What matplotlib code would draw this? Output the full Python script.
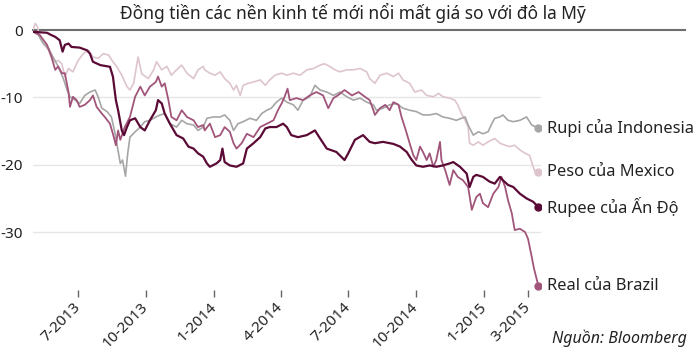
import pandas as pd
import matplotlib
matplotlib.use("Agg")
import matplotlib.pyplot as plt

plt.rcParams['font.family'] = ['Noto Sans', 'DejaVu Sans']

# days counted from 2013-05-01, values in % vs USD
start = pd.Timestamp("2013-05-01")

india_days = [0, 19, 24, 30, 36, 40, 43, 48, 52, 63, 73, 77, 81, 91, 104, 108, 112, 115, 120, 123,
              127, 131, 138, 145, 151, 158, 166, 169, 174, 178, 185, 194, 203, 210, 217, 223, 230,
              235, 239, 248, 253, 256, 259, 266, 275, 284, 289, 298, 307, 314, 320, 329, 338, 343,
              349, 358, 370, 381, 388, 397, 410, 421, 426, 435, 446, 455, 462, 473, 487, 496, 505,
              509, 512, 518, 527, 536, 545, 554, 563, 568, 577, 586, 590, 595, 599, 608, 617, 624,
              631, 635, 642, 649, 658, 667, 676, 683]
india_vals = [-0.25, -0.4, -0.7, -1.0, -1.5, -3.2, -2.2, -2.0, -2.5, -2.6, -3.0, -3.5, -4.7, -5.2,
              -5.45, -6.9, -10.4, -11.9, -14.9, -15.6, -14.4, -13.4, -13.1, -14.4, -14.9, -13.4,
              -11.9, -10.4, -10.9, -12.4, -13.9, -15.6, -16.1, -17.3, -17.6, -18.3, -18.8,
              -19.8, -20.3, -19.8, -19.3, -17.6, -19.6, -20.1, -20.3, -19.8, -17.6, -16.8, -15.9,
              -14.6, -14.4, -14.4, -13.9, -14.4, -15.6, -15.9, -15.6, -14.9, -16.1, -17.6, -18.1,
              -19.3, -18.3, -16.3, -15.6, -16.6, -16.8, -16.6, -16.9, -17.3, -18.1, -18.8, -19.3,
              -20.1, -20.3, -20.1, -20.3, -20.1, -19.8, -19.6, -20.3, -21.3, -23.3, -21.8, -21.5,
              -21.8, -22.5, -22.8, -21.8, -22.3, -23.0, -23.3, -24.3, -25.0, -25.5, -26.3]

brazil_days = [0, 9, 19, 25, 30, 34, 39, 43, 48, 50, 54, 59, 63, 70, 77, 81, 86, 93, 97, 104, 108,
               112, 115, 118, 124, 131, 138, 145, 151, 158, 166, 169, 174, 178, 183, 187, 194, 201,
               208, 217, 223, 230, 232, 239, 246, 253, 259, 266, 271, 275, 282, 289, 298, 307, 316,
               325, 331, 336, 340, 344, 347, 356, 365, 374, 383, 392, 399, 406, 412, 421, 431, 440,
               446, 455, 460, 462, 469, 476, 482, 487, 494, 498, 503, 509, 514, 518, 523, 527, 532,
               536, 541, 545, 550, 552, 557, 563, 568, 574, 581, 588, 593, 599, 604, 608, 615, 622,
               629, 633, 638, 642, 647, 651, 658, 665, 669, 674, 677, 680, 683]
brazil_vals = [-0.25, -0.7, -2.2, -4.0, -5.9, -5.4, -6.4, -6.4, -9.2, -11.4, -9.9, -10.4, -11.4,
               -11.1, -10.4, -9.7, -11.4, -12.4, -12.9, -13.9, -15.4, -17.1, -14.9, -16.3, -14.4,
               -12.9, -9.9, -8.4, -9.7, -8.4, -7.7, -6.9, -8.4, -7.9, -10.4, -12.9, -13.4, -11.9,
               -12.9, -13.4, -14.4, -14.1, -14.9, -13.9, -15.9, -15.6, -14.4, -15.1, -16.8, -17.6,
               -16.8, -15.4, -15.9, -14.4, -13.9, -13.4, -11.9, -10.9, -9.9, -8.7, -10.4, -10.1,
               -10.4, -9.7, -9.2, -9.7, -11.6, -10.1, -9.7, -8.9, -9.7, -9.2, -9.7, -10.4, -11.9,
               -12.6, -11.6, -11.1, -11.9, -10.7, -11.1, -12.9, -14.6, -16.8, -18.6, -19.3, -17.3,
               -18.1, -19.3, -18.3, -20.3, -19.3, -16.6, -19.3, -20.8, -23.0, -20.8, -21.8, -22.3,
               -23.3, -26.7, -24.8, -24.3, -25.7, -26.3, -24.3, -23.3, -21.8, -23.3, -25.3, -27.2,
               -29.7, -29.5, -30.0, -31.0, -33.7, -35.4, -36.7, -38.0]

indo_days = [0, 7, 14, 21, 27, 34, 41, 46, 50, 57, 63, 70, 77, 84, 88, 93, 100, 106, 111, 114, 118,
             121, 125, 128, 131, 138, 145, 151, 158, 166, 172, 178, 185, 194, 201, 208, 217, 223,
             230, 235, 244, 253, 259, 266, 271, 277, 284, 293, 302, 309, 316, 322, 329, 336, 343,
             352, 358, 365, 374, 381, 388, 397, 406, 415, 424, 433, 442, 451, 460, 464, 473, 482,
             491, 500, 509, 518, 527, 536, 545, 554, 563, 572, 579, 584, 588, 595, 602, 608, 615,
             620, 624, 631, 635, 642, 649, 658, 667, 674, 680, 683]
indo_vals = [-0.25, -0.7, -2.0, -2.7, -4.0, -5.4, -7.2, -8.9, -9.9, -10.4, -10.9, -9.7, -9.2, -8.9,
             -9.9, -11.6, -12.1, -12.9, -15.4, -17.3, -19.8, -19.3, -21.7, -18.3, -15.9, -15.1,
             -14.4, -13.6, -13.4, -12.9, -12.6, -12.4, -13.9, -14.4, -13.4, -13.9, -14.1, -14.9,
             -14.4, -13.1, -12.9, -12.9, -12.6, -13.4, -14.9, -13.9, -13.6, -13.1, -13.4, -12.4,
             -11.9, -11.6, -10.7, -10.1, -10.7, -11.1, -11.9, -10.4, -9.9, -8.2, -8.9, -9.2, -9.7,
             -9.2, -9.9, -10.4, -10.1, -10.7, -11.1, -11.9, -11.6, -11.1, -10.9, -11.6, -11.9,
             -12.1, -12.6, -12.6, -12.4, -12.9, -13.1, -13.4, -13.1, -12.9, -14.1, -15.6, -15.1,
             -15.4, -15.1, -13.9, -13.1, -12.9, -12.6, -13.4, -13.6, -13.4, -12.9, -14.1, -14.4,
             -14.5]

mexico_days = [0, 3, 6, 9, 14, 21, 25, 30, 34, 39, 43, 48, 54, 61, 68, 75, 81, 88, 95, 102, 108,
               113, 120, 127, 131, 136, 142, 147, 152, 156, 163, 167, 174, 181, 187, 194, 201, 208,
               217, 223, 230, 232, 239, 246, 253, 259, 266, 271, 275, 280, 284, 291, 298, 307, 314,
               320, 327, 336, 343, 352, 361, 370, 379, 388, 394, 401, 408, 415, 424, 433, 442, 451,
               455, 462, 469, 478, 487, 494, 500, 509, 516, 525, 532, 541, 548, 554, 563, 570, 574,
               579, 584, 588, 590, 595, 602, 608, 615, 624, 631, 638, 644, 651, 658, 665, 671, 676,
               680, 683]
mexico_vals = [0.0, 1.0, 0.5, -1.0, -2.0, -3.0, -4.0, -4.7, -4.5, -5.0, -6.9, -5.7, -6.2, -4.5,
               -3.5, -3.0, -4.0, -4.2, -3.5, -3.7, -4.7, -5.4, -6.7, -8.4, -8.9, -7.9, -4.0, -6.5,
               -6.9, -7.2, -5.9, -4.7, -5.9, -5.4, -6.7, -5.9, -5.2, -6.4, -7.2, -5.9, -5.4, -5.9,
               -6.4, -6.7, -6.2, -7.2, -7.9, -8.9, -8.2, -9.7, -8.2, -7.9, -7.7, -7.4, -8.2, -7.4,
               -6.7, -6.4, -6.7, -6.4, -6.7, -5.9, -5.7, -5.2, -5.0, -5.4, -5.9, -6.2, -5.9, -5.9,
               -5.7, -6.2, -7.2, -7.9, -6.7, -6.4, -6.9, -6.4, -7.4, -7.9, -9.2, -8.9, -9.7, -9.9,
               -9.4, -9.9, -10.1, -10.4, -11.1, -12.4, -13.4, -14.4, -16.8, -17.1, -16.6, -17.1,
               -16.6, -16.1, -16.8, -17.1, -17.3, -17.1, -17.8, -18.3, -18.6, -20.3, -21.5, -21.1]

series = [
    ("Peso của Mexico", mexico_days, mexico_vals, "#dec5cd", 1.2),
    ("Rupi của Indonesia", indo_days, indo_vals, "#a6a6a6", 1.2),
    ("Real của Brazil", brazil_days, brazil_vals, "#a1557a", 1.3),
    ("Rupee của Ấn Độ", india_days, india_vals, "#5a0a35", 1.6),
]

x_ticks = ["2013-07-01", "2013-10-01", "2014-01-01", "2014-04-01",
           "2014-07-01", "2014-10-01", "2015-01-01", "2015-03-01"]
x_labels = ["7-2013", "10-2013", "1-2014", "4-2014", "7-2014", "10-2014", "1-2015", "3-2015"]
y_ticks = [0, -10, -20, -30]

fig = plt.figure(figsize=(7, 3.63), dpi=100)
ax = fig.add_axes([33 / 700, 1 - 290 / 363, 508 / 700, 270 / 363])

for y in y_ticks[1:]:
    ax.axhline(y, color="#e6e6e6", lw=1, zorder=1)
ax.axhline(0, xmax=(685 - 33) / 508, color="#6e6e6e", lw=1.5, clip_on=False, zorder=2)

for name, days, vals, col, lw in series:
    d = start + pd.to_timedelta(days, unit="D")
    ax.plot(d, vals, color=col, lw=lw, zorder=3, solid_joinstyle="round")
    ax.plot(d[-1], vals[-1], "o", color=col, ms=5, zorder=4)
    ax.annotate(name, (d[-1], vals[-1]), xytext=(6, 0), textcoords="offset points",
                va="center", ha="left", fontsize=11.8, color="#222222", annotation_clip=False)

ax.set_xlim(start, start + pd.Timedelta(days=686.5))
ax.set_ylim(-38.6, 1.5)

ax.set_xticks(pd.to_datetime(x_ticks))
ax.set_xticklabels(x_labels)
ax.set_yticks(y_ticks)
ax.set_yticklabels(["0", "-10", "-20", "-30"])
ax.tick_params(axis="x", length=5, width=1, color="#666666", pad=6, labelsize=11, labelcolor="#222222")
ax.tick_params(axis="y", length=0, pad=7, labelsize=11, labelcolor="#222222")
plt.setp(ax.get_xticklabels(), rotation=45, ha="right", va="center", rotation_mode="anchor")
for s in ax.spines.values():
    s.set_visible(False)

fig.text(353 / 700, 1 - 13 / 363, "Đồng tiền các nền kinh tế mới nổi mất giá so với đô la Mỹ",
         ha="center", va="center", fontsize=12.5, color="#222222")
fig.text(552 / 700, 1 - 338 / 363, "Nguồn: Bloomberg", ha="left", va="center",
         fontsize=11.5, style="italic", color="#222222")

fig.savefig("out.png", dpi=100)
